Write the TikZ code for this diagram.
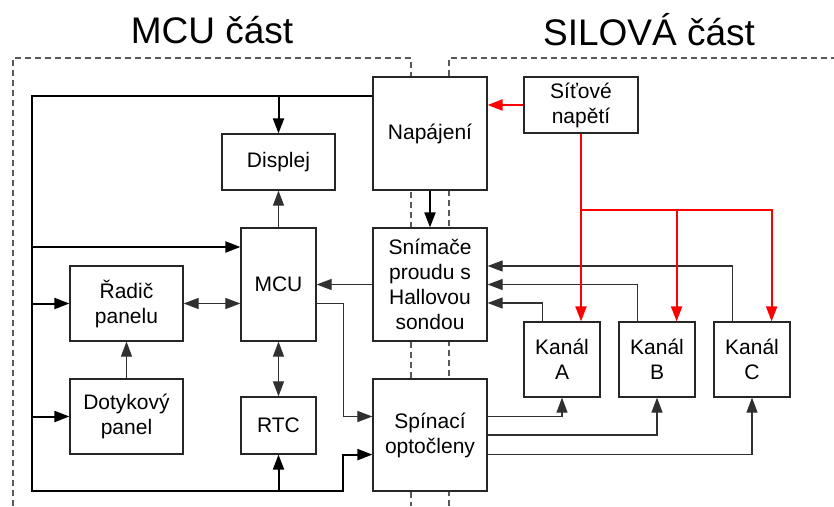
\documentclass[tikz,border=0pt]{standalone}
\usepackage{fontspec}
\setmainfont{Liberation Sans}
\usepackage{xcolor}
\usetikzlibrary{arrows.meta, positioning}
\definecolor{wire}{HTML}{303030}
\definecolor{sitcolor}{HTML}{FF0000}

\begin{document}
\begin{tikzpicture}[x=1pt, y=-1pt,
    >={Triangle[length=15pt, width=11pt]},
    blok/.style={draw=black!85, line width=1.2pt, fill=white, align=center,
        inner sep=0pt, font=\fontsize{21}{25}\selectfont},
    titulek/.style={font=\fontsize{37}{40}\selectfont},
    oblast/.style={draw=gray!70!black, line width=1.1pt, dash pattern=on 6pt off 4pt},
    signal/.style={draw=wire, line width=1.1pt},
    bus/.style={draw=black, line width=2pt},
    napeti/.style={draw=sitcolor, line width=2pt}]
    \useasboundingbox (0,0) rectangle (834,506);

    % Titles and regions
    \node[titulek] (mcuTitle) at (212,30) {MCU část};
    \node[titulek] (silTitle) at (649,30) {SILOVÁ část};
    \draw[oblast] (13,506) -- (13,58) -- (411,58) -- (411,506);
    \draw[oblast] (449,506) -- (449,58) -- (834,58);

    % MCU part
    \node[blok, minimum width=114, minimum height=113] (napajeni) at (430,133.5) {Napájení};
    \node[blok, minimum width=113, minimum height=56] (displej) at (278.5,162) {Displej};
    \node[blok, minimum width=75, minimum height=113] (mcu) at (278.5,284.5) {MCU};
    \node[blok, minimum width=114, minimum height=113] (snimace) at (430,284.5) {Snímače\\proudu s\\Hallovou\\sondou};
    \node[blok, minimum width=113, minimum height=75] (radic) at (126.5,303.5) {Řadič\\panelu};
    \node[blok, minimum width=113, minimum height=75] (dotyk) at (126.5,416.5) {Dotykový\\panel};
    \node[blok, minimum width=75, minimum height=57] (rtc) at (278.5,425.5) {RTC};
    \node[blok, minimum width=114, minimum height=112] (spinaci) at (430,435) {Spínací\\optočleny};

    % Power part
    \node[blok, minimum width=114, minimum height=56] (sit) at (581,105) {Síťové\\napětí};
    \node[blok, minimum width=76, minimum height=75] (kanalA) at (562,359.5) {Kanál\\A};
    \node[blok, minimum width=76, minimum height=75] (kanalB) at (657,359.5) {Kanál\\B};
    \node[blok, minimum width=76, minimum height=75] (kanalC) at (752,359.5) {Kanál\\C};

    % Supply bus
    \coordinate (busTop) at (32,96);
    \coordinate (busBot) at (32,491);
    \coordinate (busMcu) at (32,247);
    \draw[bus] (napajeni.west |- busTop) -- (busTop) -- (busBot) -- (rtc.south |- busBot);
    \draw[bus, ->] (rtc.south |- busBot) -- ++(64.5,0) |- (spinaci.west |- rtc.south);
    \draw[bus, ->] (displej.north |- busTop) -- (displej.north);
    \draw[bus, ->] (busMcu) -- (mcu.west |- busMcu);
    \draw[bus, ->] (busTop |- radic.west) -- (radic.west);
    \draw[bus, ->] (busTop |- dotyk.west) -- (dotyk.west);
    \draw[bus, ->] (rtc.south |- busBot) -- (rtc.south);
    \draw[bus, ->] (napajeni.south) -- (snimace.north);

    % Signals
    \draw[signal, ->] (mcu.north) -- (displej.south);
    \draw[signal, <->] (radic.east) -- (mcu.west |- radic.east);
    \draw[signal, ->] (dotyk.north) -- (radic.south);
    \draw[signal, <->] (mcu.south) -- (rtc.north);
    \draw[signal, ->] (snimace.west) -- (mcu.east |- snimace.west);
    \draw[signal, ->] (mcu.east |- radic.east) -- ++(27,0) |- (spinaci.west |- dotyk.west);

    % Current feedback from channels
    \draw[signal, ->] ([xshift=19pt]kanalA.north west) |- (snimace.east |- 0,303);
    \draw[signal, ->] ([xshift=19pt]kanalB.north west) |- (snimace.east |- 0,284.5);
    \draw[signal, ->] ([xshift=19pt]kanalC.north west) |- (snimace.east |- 0,266);

    % Switching of channels
    \draw[signal, ->] (spinaci.east |- dotyk.west) -| (kanalA.south);
    \draw[signal, ->] (spinaci.east) -| (kanalB.south);
    \draw[signal, ->] (spinaci.east |- rtc.south) -| (kanalC.south);

    % Mains
    \draw[napeti, ->] (sit.west) -- (napajeni.east |- sit.west);
    \draw[napeti, ->] (sit.south) -- (sit.south |- kanalA.north);
    \coordinate (rozbocka) at ([yshift=-76pt]sit.south);
    \draw[napeti, ->] (rozbocka) -| ([xshift=-19pt]kanalB.north east);
    \draw[napeti, ->] (rozbocka) -| ([xshift=-19pt]kanalC.north east);
\end{tikzpicture}
\end{document}
